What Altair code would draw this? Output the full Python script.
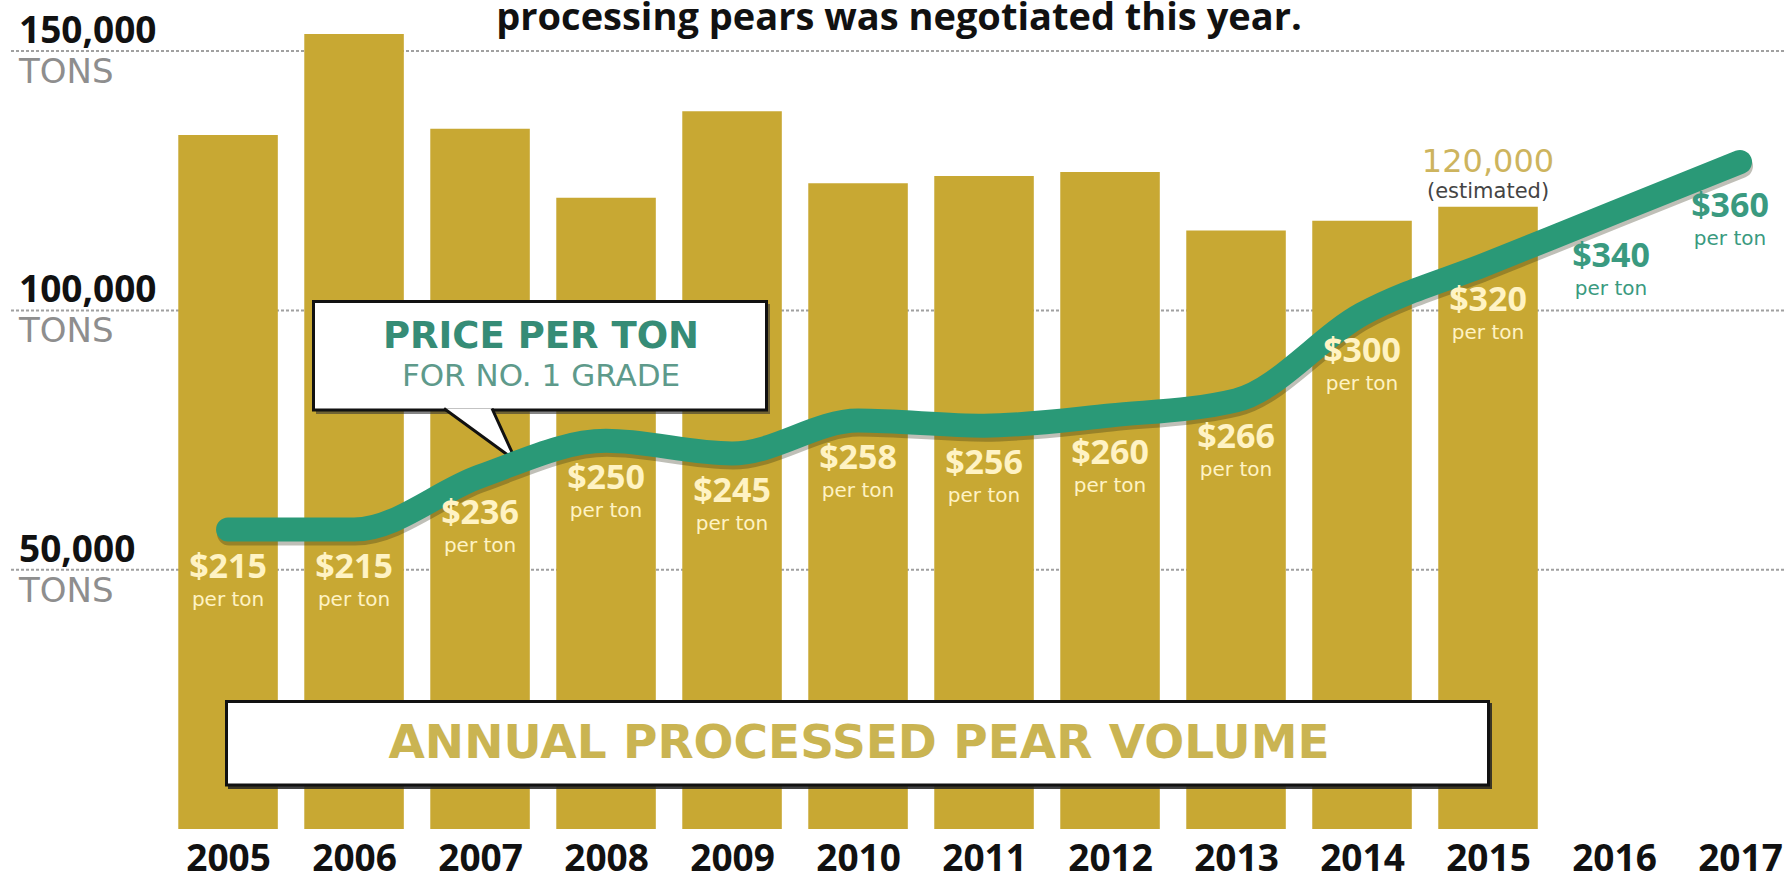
import altair as alt
import pandas as pd

# ---------------- data ----------------
years = [2005, 2006, 2007, 2008, 2009, 2010, 2011, 2012, 2013, 2014, 2015, 2016, 2017]
volume_years = [2005, 2006, 2007, 2008, 2009, 2010, 2011, 2012, 2013, 2014, 2015]
volumes = [133800, 153300, 135000, 121700, 138400, 124500, 125900, 126700, 115400, 117300, 120000]
prices = [215, 215, 236, 250, 245, 258, 256, 260, 266, 300, 320, 340, 360]
grid_values = [50000, 100000, 150000]
grid_labels = ["50,000", "100,000", "150,000"]
unit_label = "TONS"
title_text = "processing pears was negotiated this year."
price_box_title = "PRICE PER TON"
price_box_sub = "FOR NO. 1 GRADE"
volume_box_text = "ANNUAL PROCESSED PEAR VOLUME"
estimate_note = "(estimated)"
price_unit = "per ton"

# ---------------- style ----------------
GOLD = "#C8A833"
GREEN = "#2A9977"
GREEN_TEXT = "#3A9A80"
CREAM = "#FFF3C4"
W, H = 1785, 829

vol_df = pd.DataFrame({"year": volume_years, "volume": volumes})
price_df = pd.DataFrame({"year": years, "price": prices})
grid_df = pd.DataFrame({"value": grid_values, "label": grid_labels,
                        "unit": [unit_label] * len(grid_values)})


def one(text):
    return pd.DataFrame({"t": [text]})


xs = alt.Scale(domain=[2003.19, 2017.357], nice=False, zero=False)
vs = alt.Scale(domain=[0, 159850], nice=False, zero=False)
ps = alt.Scale(domain=[96.9, 423.9], nice=False, zero=False)

x_axis = alt.Axis(values=years, format="d", domain=False, ticks=False, tickSize=0,
                  grid=False, labelFont="Open Sans", labelFontWeight="bold",
                  labelFontSize=37, labelColor="#111111", labelPadding=12,
                  labelOverlap=False, labelFlush=False, labelBound=False, title=None)


def XQ(f):
    return alt.X(f, type="quantitative", scale=xs, axis=x_axis)


def YV(f):
    return alt.Y(f, type="quantitative", scale=vs, axis=None)


def YP(f):
    return alt.Y(f, type="quantitative", scale=ps, axis=None)


grid = alt.Chart(grid_df).mark_rule(color="#a0a0a0", strokeWidth=2, strokeDash=[3, 2]).encode(
    y=YV("value"), x=alt.value(11), x2=alt.value(W))

grid_num = alt.Chart(grid_df).mark_text(
    align="left", baseline="alphabetic", dy=-8, font="Open Sans", fontWeight="bold",
    fontSize=37, color="#111111").encode(x=alt.value(19), y=YV("value"), text="label:N")

grid_unit = alt.Chart(grid_df).mark_text(
    align="left", baseline="alphabetic", dy=32, font="DejaVu Sans",
    fontSize=34, color="#8e8e8e").encode(x=alt.value(19), y=YV("value"), text="unit:N")

bars = alt.Chart(vol_df).transform_calculate(
    x_lo="datum.year - 0.395", x_hi="datum.year + 0.395"
).mark_rect(color=GOLD).encode(
    x=XQ("x_lo"),
    x2="x_hi:Q",
    y=YV("volume"),
    y2=alt.datum(0),
)

est_value = alt.Chart(vol_df).transform_filter("datum.year == 2015").mark_text(
    font="DejaVu Sans", fontSize=32, color="#CDB45E", baseline="alphabetic", dy=-35
).encode(x=XQ("year"), y=YV("volume"), text=alt.Text("volume:Q", format=",.0f"))

est_note = alt.Chart(vol_df).transform_filter("datum.year == 2015").mark_text(
    font="DejaVu Sans", fontSize=21, color="#444444", baseline="alphabetic", dy=-9,
    text=estimate_note
).encode(x=XQ("year"), y=YV("volume"))

title = alt.Chart(one(title_text)).mark_text(
    font="Open Sans", fontWeight="bold", fontSize=38, color="#111111",
    baseline="alphabetic", align="center"
).encode(x=alt.value(899), y=alt.value(30), text="t:N")

# annual volume box
vbox_shadow = alt.Chart(one("")).mark_rect(color="#222222", opacity=0.85).encode(
    x=alt.value(228), x2=alt.value(1492), y=alt.value(703), y2=alt.value(789))
vbox = alt.Chart(one("")).mark_rect(fill="white", stroke="#111111", strokeWidth=3).encode(
    x=alt.value(226.5), x2=alt.value(1488.5), y=alt.value(701.5), y2=alt.value(785))
vbox_text = alt.Chart(one(volume_box_text)).mark_text(
    font="DejaVu Sans", fontWeight="bold", fontSize=47, color="#CAB452",
    baseline="alphabetic", align="center"
).encode(x=alt.value(859), y=alt.value(758), text="t:N")

# price callout
pbox_shadow = alt.Chart(one("")).mark_rect(color="#333333", opacity=0.6).encode(
    x=alt.value(316), x2=alt.value(770), y=alt.value(304), y2=alt.value(414))
pbox = alt.Chart(one("")).mark_rect(fill="white", stroke="#111111", strokeWidth=3).encode(
    x=alt.value(313.5), x2=alt.value(766.5), y=alt.value(301.5), y2=alt.value(410))
pointer = alt.Chart(one("")).mark_point(
    shape="M0,-1.5 L72,51 L48,-1.5", size=4, filled=True, fill="white",
    stroke="#111111", strokeWidth=3, opacity=1, strokeJoin="miter"
).encode(x=alt.value(444), y=alt.value(410))
ptitle = alt.Chart(one(price_box_title)).mark_text(
    font="DejaVu Sans", fontWeight="bold", fontSize=37, color="#368C76",
    baseline="alphabetic", align="center"
).encode(x=alt.value(541), y=alt.value(348), text="t:N")
psub = alt.Chart(one(price_box_sub)).mark_text(
    font="DejaVu Sans", fontSize=31, color="#5E9A8B",
    baseline="alphabetic", align="center"
).encode(x=alt.value(541), y=alt.value(386), text="t:N")

# price line
line_shadow = alt.Chart(price_df).mark_line(
    color="#2b2a10", opacity=0.3, strokeWidth=24, strokeCap="round", strokeJoin="round",
    interpolate="monotone", yOffset=4, xOffset=1
).encode(x=XQ("year"), y=YP("price"))
line = alt.Chart(price_df).mark_line(
    color=GREEN, strokeWidth=24, strokeCap="round", strokeJoin="round", interpolate="monotone"
).encode(x=XQ("year"), y=YP("price"))


def price_labels(filt, color, dx, dy):
    base = alt.Chart(price_df).transform_filter(filt).transform_calculate(
        t="'$' + datum.price", u=f"'{price_unit}'")
    big = base.mark_text(font="Open Sans", fontWeight="bold", fontSize=34, color=color,
                         baseline="alphabetic", align="center", dy=dy, dx=dx).encode(
        x=XQ("year"), y=YP("price"), text="t:N")
    small = base.mark_text(font="DejaVu Sans", fontSize=20, color=color,
                           baseline="alphabetic", align="center", dy=dy + 28, dx=dx).encode(
        x=XQ("year"), y=YP("price"), text="u:N")
    return [big, small]


labels = (price_labels("datum.year <= 2015", CREAM, 0, 48)
          + price_labels("datum.year == 2016", GREEN_TEXT, -3, 54)
          + price_labels("datum.year == 2017", GREEN_TEXT, -10, 55))

chart = alt.layer(
    grid, bars, grid_num, grid_unit, est_value, est_note, title,
    vbox_shadow, vbox, vbox_text,
    pbox_shadow, pbox, pointer, ptitle, psub,
    line_shadow, line, *labels
).resolve_scale(y="independent").properties(
    width=W, height=H,
    autosize=alt.AutoSizeParams(type="none"),
    padding={"left": 0, "top": 0, "right": 0, "bottom": 51},
    background="white",
).configure_view(stroke=None)

chart.save("out.html", embed_options={"renderer": "svg", "actions": False})
